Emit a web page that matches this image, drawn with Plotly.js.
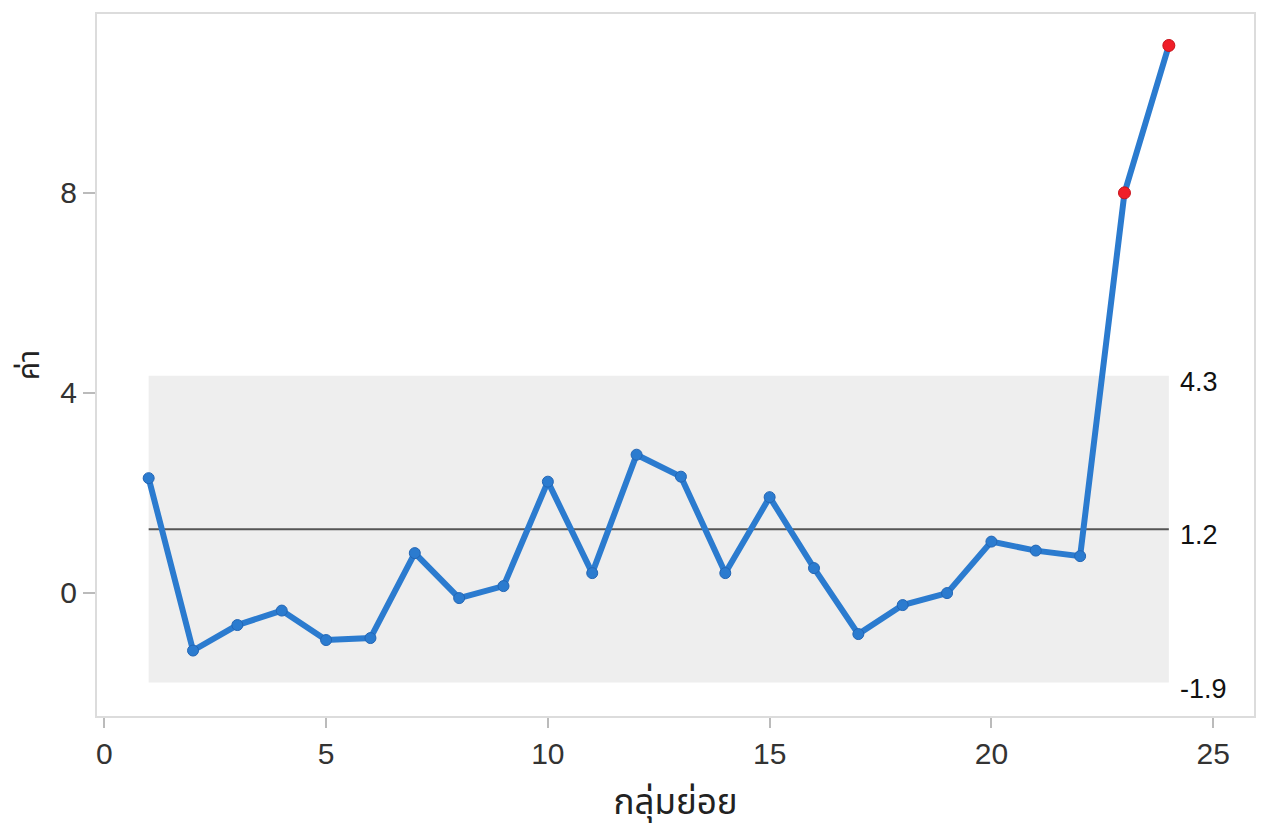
<!DOCTYPE html>
<html>
<head>
<meta charset="utf-8">
<script src="https://cdn.plot.ly/plotly-3.0.1.min.js"></script>
<style>
  html, body { margin: 0; padding: 0; background: #fff; }
  #chart { width: 1265px; height: 832px; }
</style>
</head>
<body>
<div id="chart"></div>
<script>
// Subgroup number and plotted value
const subgroups = [1, 2, 3, 4, 5, 6, 7, 8, 9, 10, 11, 12, 13, 14, 15, 16, 17, 18, 19, 20, 21, 22, 23, 24];
const values = [2.29, -1.16, -0.65, -0.36, -0.95, -0.91, 0.79, -0.11, 0.13, 2.22, 0.39, 2.76,
                2.32, 0.39, 1.91, 0.49, -0.83, -0.25, -0.01, 1.02, 0.84, 0.73, 8.0, 10.95];

// Control limits and the labels printed beside them
const ucl = 4.34, centerLine = 1.27, lcl = -1.80;
const limitValues = [ucl, centerLine, lcl];
const limitLabels = ['4.3', '1.2', '-1.9'];

const xTicks = [0, 5, 10, 15, 20, 25];
const yTicks = [0, 4, 8];

const FONT = '"Liberation Sans", Arial, "Noto Sans Thai", "Noto Sans", sans-serif';
const blue = '#2b7bcf', red = '#f01e28';

const first = subgroups[0], last = subgroups[subgroups.length - 1];

// points outside the limits go red
const outside = values.map(v => v > ucl || v < lcl);

const traces = [{
    x: subgroups, y: values,
    type: 'scatter', mode: 'lines+markers',
    line: { color: blue, width: 6 },
    marker: {
        color: outside.map(o => o ? red : blue),
        size: outside.map(o => o ? 12 : 11),
        opacity: 1,
        line: { color: outside.map(o => o ? '#c81018' : '#2366b5'), width: 1 }
    },
    hoverinfo: 'x+y', showlegend: false
}];

const shapes = [
    { type: 'rect', xref: 'x', yref: 'y', x0: first, x1: last, y0: lcl, y1: ucl,
      fillcolor: '#eeeeee', line: { width: 0 }, layer: 'below' },
    { type: 'line', xref: 'x', yref: 'y', x0: first, x1: last, y0: centerLine, y1: centerLine,
      line: { color: '#555', width: 2 }, layer: 'below' }
];

const annotations = limitValues.map((v, i) => ({
    x: last, y: v, xref: 'x', yref: 'y', text: limitLabels[i],
    showarrow: false, xanchor: 'left', yanchor: 'middle', xshift: 9, yshift: -6,
    font: { family: FONT, size: 27, color: '#111' }
}));

const layout = {
    width: 1265, height: 832,
    margin: { l: 97, r: 11, t: 14, b: 116 },
    paper_bgcolor: '#fff', plot_bgcolor: '#fff',
    font: { family: FONT, color: '#333' },
    xaxis: {
        range: [-0.165, 25.92], tickvals: xTicks, showgrid: false, zeroline: false,
        showline: true, mirror: true, linecolor: '#dcdcdc', linewidth: 2,
        ticks: 'outside', ticklen: 10, tickcolor: '#bbb', tickwidth: 2,
        tickfont: { family: FONT, size: 30, color: '#333' },
        title: { text: 'กลุ่มย่อย', font: { family: FONT, size: 35, color: '#222' }, standoff: 20 }
    },
    yaxis: {
        range: [-2.47, 11.58], tickvals: yTicks, showgrid: false, zeroline: false,
        showline: true, mirror: true, linecolor: '#dcdcdc', linewidth: 2,
        ticks: 'outside', ticklen: 12, tickcolor: '#bbb', tickwidth: 2,
        tickfont: { family: FONT, size: 30, color: '#333' },
        title: { text: 'ค่า', font: { family: FONT, size: 30, color: '#222' }, standoff: 12 }
    },
    shapes: shapes,
    annotations: annotations
};

Plotly.newPlot('chart', traces, layout, { displayModeBar: false, staticPlot: true });
</script>
</body>
</html>
